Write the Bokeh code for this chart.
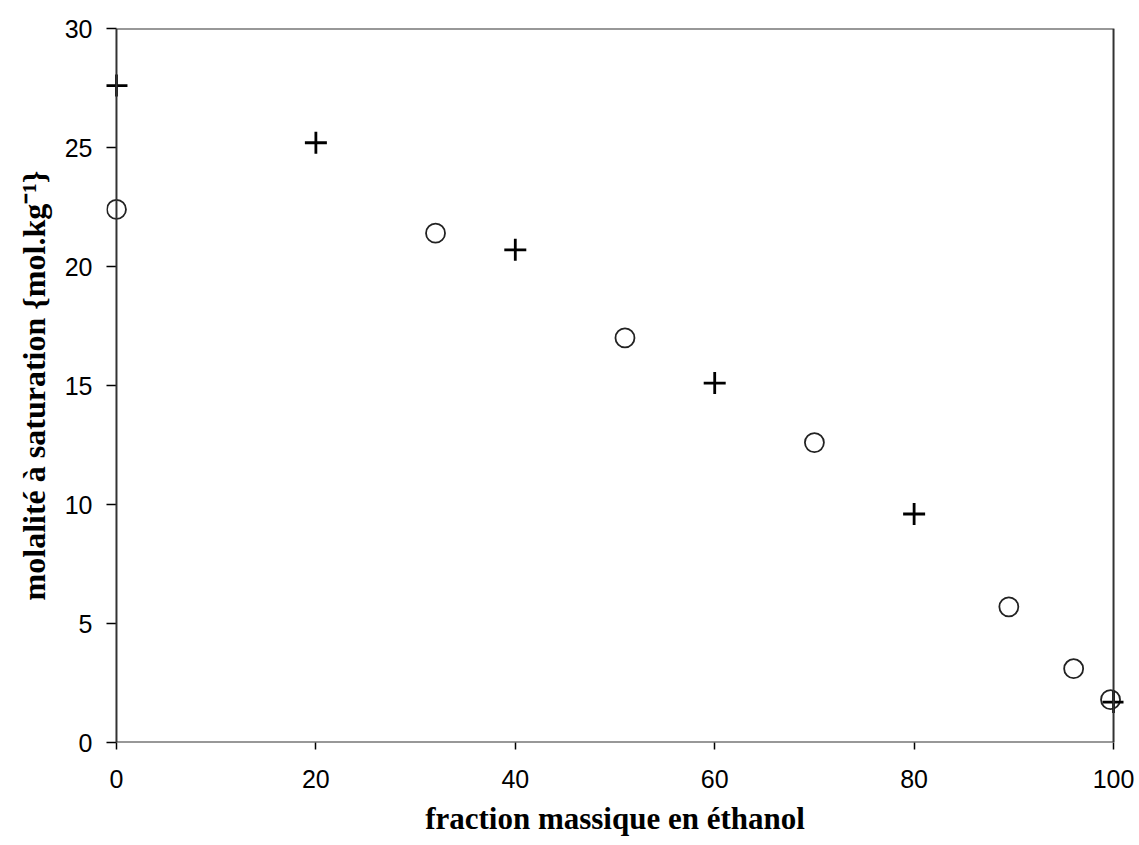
from bokeh.plotting import figure
from bokeh.models import Range1d, FixedTicker, BoxAnnotation
from bokeh.embed import file_html
from bokeh.resources import INLINE

# ---- data ----
circle_x = [0, 32, 51, 70, 89.5, 96, 99.7]
circle_y = [22.4, 21.4, 17.0, 12.6, 5.7, 3.1, 1.8]
plus_x = [0, 20, 40, 60, 80, 100]
plus_y = [27.6, 25.2, 20.7, 15.1, 9.6, 1.7]

x_ticks = [0, 20, 40, 60, 80, 100]
y_ticks = [0, 5, 10, 15, 20, 25, 30]
X_MIN, X_MAX = 0, 100
Y_MIN, Y_MAX = 0, 30
X_PAD = 1.0

x_title = "fraction massique en éthanol"
y_title = "molalité à saturation {mol.kg\u207b\u00b9}"

p = figure(width=1139, height=845, output_backend="svg", toolbar_location=None,
           x_range=Range1d(X_MIN - X_PAD, X_MAX + X_PAD), y_range=Range1d(Y_MIN, Y_MAX),
           min_border_left=106, min_border_right=16, min_border_top=28, min_border_bottom=103)
p.outline_line_color = None
p.grid.visible = False
p.background_fill_color = "white"
p.border_fill_color = "white"

# frame box
box = BoxAnnotation(left=X_MIN, right=X_MAX, bottom=Y_MIN, top=Y_MAX,
                    fill_alpha=0, line_color="#333333", line_alpha=1.0, line_width=2)
p.add_layout(box)

# axes
for ax in (p.xaxis[0], p.yaxis[0]):
    ax.axis_line_color = None
    ax.major_tick_line_color = "black"
    ax.major_tick_line_width = 1.5
    ax.minor_tick_line_color = None
    ax.major_label_text_font = "Liberation Sans"
    ax.major_label_text_font_size = "25px"
    ax.major_label_text_color = "black"
    ax.axis_label_text_font = "Liberation Serif"
    ax.axis_label_text_font_style = "bold"
    ax.axis_label_text_color = "black"

p.xaxis[0].axis_label_text_font_size = "31px"
p.yaxis[0].axis_label_text_font_size = "32px"
p.xaxis[0].ticker = FixedTicker(ticks=x_ticks)
p.yaxis[0].ticker = FixedTicker(ticks=y_ticks)
p.xaxis[0].major_tick_in = 0
p.xaxis[0].major_tick_out = 7
p.xaxis[0].major_label_standoff = 20
p.xaxis[0].axis_label_standoff = 10
p.yaxis[0].major_tick_in = 10
p.yaxis[0].major_tick_out = 0
p.yaxis[0].major_label_standoff = 14
p.yaxis[0].axis_label_standoff = 10
p.xaxis[0].axis_label = x_title
p.yaxis[0].axis_label = y_title

# data marks
p.scatter(circle_x, circle_y, marker="circle", size=19, fill_color=None,
          line_color="#222222", line_width=1.8)
p.scatter(plus_x, plus_y, marker="cross", size=22, line_color="black", line_width=2.8)

open("out.html", "w").write(file_html(p, INLINE))
